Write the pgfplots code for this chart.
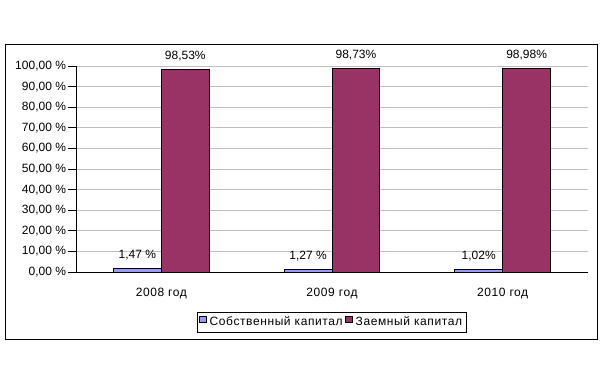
\documentclass[border=0pt]{standalone}
\usepackage{fontspec}
\setmainfont{Liberation Sans}
\newfontfamily\spfont[LetterSpace=5]{Liberation Sans}
\usepackage{pgfplots}
\pgfplotsset{compat=1.18}
\definecolor{cblue}{HTML}{9999FF}
\definecolor{cmaroon}{HTML}{993366}
\definecolor{cgrid}{HTML}{C0C0C0}
\begin{document}
\begin{tikzpicture}[font=\fontsize{9}{11}\selectfont]
\useasboundingbox (0pt,0pt) rectangle (452.25pt,287.25pt);
\draw[black, line width=0.75pt] (3.75pt,33pt) rectangle (447.75pt,253.5pt);
\begin{axis}[
  at={(57pt,83.25pt)}, anchor=south west,
  scale only axis, width=384pt, height=154.5pt,
  ybar=0pt, bar width=0.281,
  xmin=-0.5, xmax=2.5, ymin=0, ymax=100,
  axis x line*=bottom, axis y line*=left,
  axis line style={black, line width=0.75pt, -},
  tick align=outside,
  xtick={0,1,2}, xticklabels={2008 год, 2009 год, 2010 год},
  x tick style={draw=none},
  extra x ticks={-0.5,0.5,1.5,2.5}, extra x tick labels={},
  extra x tick style={major tick length=3.5pt, tick style={black, line width=0.75pt}},
  ytick={0,10,...,100},
  yticklabels={{0,00 \%},{10,00 \%},{20,00 \%},{30,00 \%},{40,00 \%},{50,00 \%},{60,00 \%},{70,00 \%},{80,00 \%},{90,00 \%},{100,00 \%}},
  y tick style={black, line width=0.75pt},
  major tick length=6pt,
  ymajorgrids, grid style={cgrid, line width=0.75pt},
  tick label style={font=\fontsize{9}{11}\selectfont},
  xticklabel style={anchor=base, yshift=-12pt, font=\fontsize{9}{11}\spfont},
  yticklabel style={anchor=east, xshift=2pt},
  point meta=explicit symbolic,
  nodes near coords={\pgfplotspointmeta},
  every node near coord/.append style={font=\fontsize{9}{11}\selectfont, anchor=base, yshift=7.5pt, black},
  legend style={at={(0.5,-0.245)}, anchor=center, draw=black, line width=0.75pt,
    legend columns=2, inner sep=1.5pt, font=\fontsize{9}{11}\spfont,
    /tikz/every even column/.append style={column sep=0pt}},
  legend cell align=left,
]
\addplot[fill=cblue, draw=black, line width=0.75pt,
  legend image code/.code={\draw[fill=cblue,draw=black,line width=0.6pt] (0pt,-0.3pt) rectangle (5.2pt,4.9pt);}]
  coordinates {(0,1.47) [1,47 \%] (1,1.27) [1,27 \%] (2,1.02) [1,02\%]};
\addplot[fill=cmaroon, draw=black, line width=0.75pt,
  legend image code/.code={\draw[fill=cmaroon,draw=black,line width=0.6pt] (0pt,-0.3pt) rectangle (5.2pt,4.9pt);}]
  coordinates {(0,98.53) [98,53\%] (1,98.73) [98,73\%] (2,98.98) [98,98\%]};
\legend{Собственный капитал, Заемный капитал}
\end{axis}
\end{tikzpicture}
\end{document}
